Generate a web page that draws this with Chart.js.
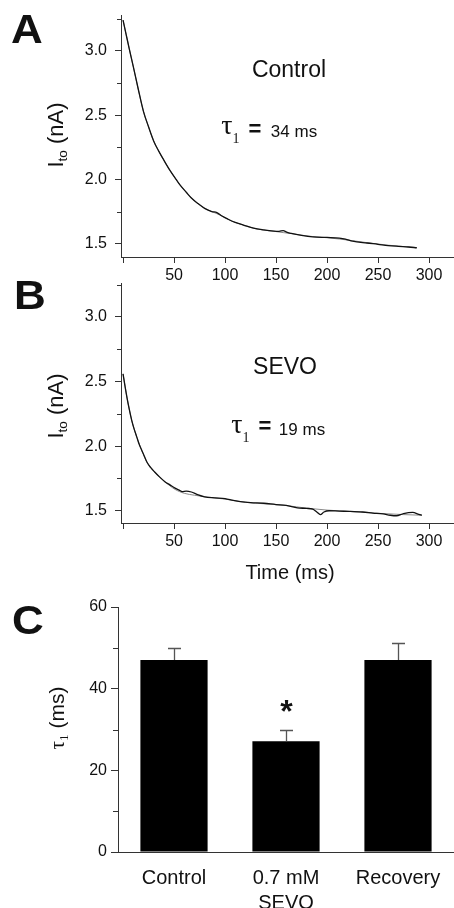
<!DOCTYPE html>
<html>
<head>
<meta charset="utf-8">
<script src="https://cdn.jsdelivr.net/npm/chart.js@4.4.0/dist/chart.umd.min.js"></script>
<style>
  html, body { margin:0; padding:0; background:#fff; }
  #wrap { position:relative; width:454px; height:908px; overflow:hidden; background:#fff; font-family:"Liberation Sans", Arial, sans-serif; color:#111; }
  canvas { position:absolute; left:0; }
  .t { position:absolute; line-height:1; white-space:nowrap; transform:translate(-50%,-50%); }
  .rot { transform:translate(-50%,-50%) rotate(-90deg); }
  .serif { font-family:"Liberation Serif", "Times New Roman", serif; }
  .letter { font-weight:bold; font-size:40px; transform:translate(-50%,-50%) scaleX(1.1); }
  sub { font-size:0.62em; vertical-align:-0.28em; }
</style>
</head>
<body>
<div id="wrap">
  <canvas id="cA" width="454" height="290" style="top:0px"></canvas>
  <canvas id="cB" width="454" height="330" style="top:270px"></canvas>
  <canvas id="cC" width="454" height="318" style="top:590px"></canvas>

  <div class="t letter" style="left:27px;top:29px">A</div>
  <div class="t letter" style="left:30px;top:295px">B</div>
  <div class="t letter" style="left:28px;top:620px">C</div>

  <div class="t rot" style="left:57px;top:135px;font-size:22px">I<sub>to</sub> (nA)</div>
  <div class="t rot" style="left:57px;top:406px;font-size:22px">I<sub>to</sub> (nA)</div>
  <div class="t rot" style="left:58px;top:718px;font-size:21px"><span class="serif">τ<sub>1</sub></span> (ms)</div>

  <div class="t" style="left:289px;top:69px;font-size:23px">Control</div>
  <div class="t serif" style="left:227px;top:125px;font-size:28px">τ</div>
  <div class="t serif" style="left:236px;top:139px;font-size:14px">1</div>
  <div class="t" style="left:255px;top:129px;font-size:22px;font-weight:bold">=</div>
  <div class="t" style="left:294px;top:131px;font-size:17px">34 ms</div>

  <div class="t" style="left:285px;top:366px;font-size:23px">SEVO</div>
  <div class="t serif" style="left:237px;top:424px;font-size:28px">τ</div>
  <div class="t serif" style="left:246px;top:438px;font-size:14px">1</div>
  <div class="t" style="left:265px;top:426px;font-size:22px;font-weight:bold">=</div>
  <div class="t" style="left:302px;top:429px;font-size:17px">19 ms</div>

  <div class="t" style="left:290px;top:572px;font-size:20px">Time (ms)</div>
</div>
<script>
// ---------- DATA ----------
// Panel A: Control current trace (time ms, current nA)
const controlT = [0,3,6,10,15,20,25,30,35,40,46,52,56,62,67,73,80,87,92,97,103,110,118,128,138,148,153,157,161,165,175,186,200,212,218,225,239,250,260,270,280,288];
const controlI = [3.24,3.13,3.02,2.88,2.70,2.53,2.41,2.30,2.22,2.15,2.07,2.00,1.955,1.90,1.855,1.815,1.775,1.75,1.742,1.715,1.69,1.665,1.645,1.62,1.607,1.598,1.596,1.601,1.588,1.58,1.565,1.553,1.548,1.543,1.536,1.52,1.505,1.495,1.485,1.479,1.474,1.468];
// Panel A: fitted curve
const controlFitT = [0,3,6,10,15,20,25,30,35,40,46,52,56,62,67,73,80,87,92,97,103,110,118,128,138,148,157,165,175,186,200,212,225,239,250,260,270,280,288];
const controlFitI = [3.24,3.13,3.02,2.88,2.70,2.53,2.41,2.30,2.22,2.15,2.07,2.00,1.955,1.90,1.855,1.815,1.775,1.75,1.733,1.715,1.69,1.665,1.645,1.62,1.605,1.596,1.586,1.578,1.566,1.555,1.546,1.536,1.523,1.508,1.497,1.488,1.481,1.474,1.468];

// Panel B: SEVO current trace
const sevoT = [0,2,4,6,8.5,11,13.5,16,18.5,21,23.5,27,31,36,41,46,51,55,58,62,67,73,80,90,100,108,115,125,138,150,160,171,180,186,190,193.5,197,202,212,222,235,245,255,262,268,275,284,290,293];
const sevoI = [2.56,2.46,2.37,2.29,2.20,2.13,2.07,2.01,1.965,1.92,1.875,1.835,1.80,1.76,1.725,1.70,1.675,1.66,1.648,1.652,1.645,1.625,1.608,1.60,1.594,1.58,1.57,1.562,1.558,1.548,1.542,1.522,1.518,1.512,1.49,1.47,1.49,1.50,1.497,1.495,1.49,1.482,1.475,1.465,1.461,1.478,1.487,1.472,1.465];
// Panel B: fitted curve
const sevoFitT = [0,4,8.5,13.5,18.5,23.5,31,41,51,60,70,80,100,120,140,160,180,200,220,250,275,293];
const sevoFitI = [2.56,2.37,2.20,2.07,1.965,1.875,1.80,1.725,1.665,1.635,1.62,1.608,1.59,1.565,1.553,1.54,1.52,1.505,1.495,1.48,1.47,1.465];

// Trace axes
const traceXTicks = [0,50,100,150,200,250,300];
const traceYTicks = [1.5,2.0,2.5,3.0];
const traceYMinor = [1.75,2.25,2.75,3.25];

// Panel C: bar chart
const barLabels = ['Control', ['0.7 mM','SEVO'], 'Recovery'];
const tauMeans = [47, 27.1, 47];
const tauErrors = [3.0, 2.9, 4.1];
const significant = [false, true, false];
const barYTicks = [0,20,40,60];
const barYMinor = [10,30,50];

// ---------- STYLE ----------
const axisColor = '#333';
const textColor = '#111';
const FONT = '"Liberation Sans", Arial, sans-serif';

const minorTicks = {
  id: 'minorTicks',
  afterDraw(chart, args, opts) {
    const ctx = chart.ctx;
    (opts.items || []).forEach(it => {
      const s = chart.scales[it.axis];
      ctx.save();
      ctx.strokeStyle = axisColor; ctx.lineWidth = 1;
      it.values.forEach(v => {
        const p = Math.round(s.getPixelForValue(v)) + 0.5;
        ctx.beginPath();
        ctx.moveTo(s.right, p); ctx.lineTo(s.right - it.len, p);
        ctx.stroke();
      });
      ctx.restore();
    });
  }
};

const errorBars = {
  id: 'errorBars',
  afterDatasetsDraw(chart, args, opts) {
    if (!opts.errors) return;
    const ctx = chart.ctx;
    const y = chart.scales.y;
    const meta = chart.getDatasetMeta(0);
    ctx.save();
    meta.data.forEach((el, i) => {
      const v = chart.data.datasets[0].data[i];
      const top = Math.round(y.getPixelForValue(v + opts.errors[i])) + 0.5;
      const x = Math.round(el.x) + 0.5;
      ctx.strokeStyle = '#555'; ctx.lineWidth = 1.3;
      ctx.beginPath();
      ctx.moveTo(x, el.y); ctx.lineTo(x, top);
      ctx.moveTo(x - 6.5, top); ctx.lineTo(x + 6.5, top);
      ctx.stroke();
      if (opts.sig && opts.sig[i]) {
        ctx.fillStyle = '#111';
        ctx.font = 'bold 32px ' + FONT;
        ctx.textAlign = 'center';
        ctx.textBaseline = 'alphabetic';
        ctx.fillText('*', x, top - 9);
      }
    });
    ctx.restore();
  }
};

function pts(t, v) { return t.map((x, i) => ({x: x, y: v[i]})); }

function traceChart(id, t, v, ft, fv, cfg) {
  return new Chart(document.getElementById(id), {
    type: 'line',
    data: {
      datasets: [
        { data: pts(t, v), borderColor: '#111', borderWidth: 1.3, pointRadius: 0, cubicInterpolationMode: 'monotone', fill: false },
        { data: pts(ft, fv), borderColor: '#8a8a8a', borderWidth: 1, pointRadius: 0, cubicInterpolationMode: 'monotone', fill: false }
      ]
    },
    options: {
      responsive: false, animation: false, devicePixelRatio: 1,
      layout: { padding: { top: cfg.top, left: 0, right: 0, bottom: 0 } },
      plugins: { legend: { display: false }, tooltip: { enabled: false },
        minorTicks: { items: [{ axis: 'y', values: traceYMinor, len: 4 }] } },
      scales: {
        x: {
          type: 'linear', min: -2, max: 324.5,
          afterBuildTicks: s => { s.ticks = traceXTicks.map(x => ({ value: x })); },
          afterFit: s => { s.height = cfg.xh; s.paddingLeft = 0; s.paddingRight = 0; },
          ticks: { callback: v => v === 0 ? '' : String(v), color: textColor, font: { family: FONT, size: 16 }, padding: 3, maxRotation: 0, autoSkip: false },
          grid: { drawOnChartArea: false, drawTicks: true, tickLength: 6, color: axisColor },
          border: { display: true, color: axisColor, width: 1 }
        },
        y: {
          type: 'linear', min: cfg.ymin, max: cfg.ymax,
          afterBuildTicks: s => { s.ticks = traceYTicks.map(x => ({ value: x })); },
          afterFit: s => { s.width = 121; s.paddingTop = 0; s.paddingBottom = 0; },
          ticks: { callback: v => v.toFixed(1), color: textColor, font: { family: FONT, size: 16 }, padding: 8 },
          grid: { drawOnChartArea: false, drawTicks: true, tickLength: 6, color: axisColor },
          border: { display: true, color: axisColor, width: 1 }
        }
      }
    },
    plugins: [minorTicks]
  });
}

// Panel A: chart area top 15, bottom 257
traceChart('cA', controlT, controlI, controlFitT, controlFitI, { top: 15, xh: 290 - 257, ymin: 1.396, ymax: 3.28 });
// Panel B: canvas top 270, chart area top 283, bottom 523
traceChart('cB', sevoT, sevoI, sevoFitT, sevoFitI, { top: 13, xh: 330 - 253, ymin: 1.405, ymax: 3.263 });

// Panel C: canvas top 590, chart area top 607, bottom 852
new Chart(document.getElementById('cC'), {
  type: 'bar',
  data: {
    labels: barLabels,
    datasets: [{ data: tauMeans, backgroundColor: '#000', borderWidth: 0, barPercentage: 0.6, categoryPercentage: 1.0 }]
  },
  options: {
    responsive: false, animation: false, devicePixelRatio: 1,
    layout: { padding: { top: 17, left: 0, right: 0, bottom: 0 } },
    plugins: { legend: { display: false }, tooltip: { enabled: false },
      minorTicks: { items: [{ axis: 'y', values: barYMinor, len: 5 }] },
      errorBars: { errors: tauErrors, sig: significant } },
    scales: {
      x: {
        afterFit: s => { s.height = 318 - 262; s.paddingLeft = 0; s.paddingRight = 0; },
        ticks: { color: textColor, font: { family: FONT, size: 20, lineHeight: 1.25 }, padding: 6, maxRotation: 0, autoSkip: false },
        grid: { display: false },
        border: { display: true, color: axisColor, width: 1 }
      },
      y: {
        min: 0, max: 60,
        afterBuildTicks: s => { s.ticks = barYTicks.map(x => ({ value: x })); },
        afterFit: s => { s.width = 118; s.paddingTop = 0; s.paddingBottom = 0; },
        ticks: { color: textColor, font: { family: FONT, size: 16 }, padding: 4 },
        grid: { drawOnChartArea: false, drawTicks: true, tickLength: 7, color: axisColor },
        border: { display: true, color: axisColor, width: 1 }
      }
    }
  },
  plugins: [minorTicks, errorBars]
});
</script>
</body>
</html>
